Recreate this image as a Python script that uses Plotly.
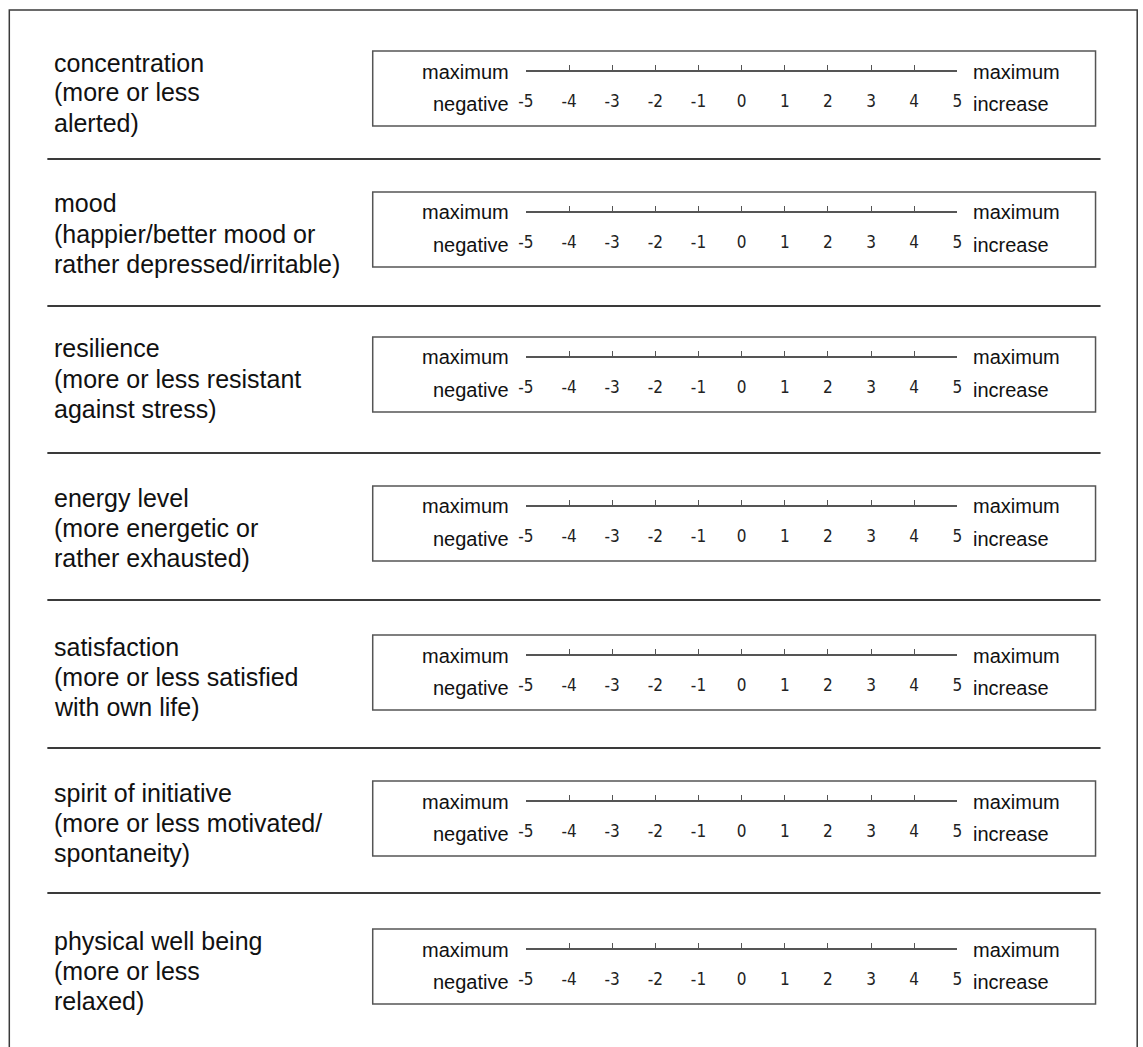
import plotly.graph_objects as go

# ---------------- data ----------------
item_names = ["concentration", "mood", "resilience", "energy level",
              "satisfaction", "spirit of initiative", "physical well being"]
item_desc_line1 = ["(more or less", "(happier/better mood or", "(more or less resistant",
                   "(more energetic or", "(more or less satisfied",
                   "(more or less motivated/", "(more or less"]
item_desc_line2 = ["alerted)", "rather depressed/irritable)", "against stress)",
                   "rather exhausted)", "with own life)", "spontaneity)", "relaxed)"]
scale_values = [-5, -4, -3, -2, -1, 0, 1, 2, 3, 4, 5]
tick_labels = ["-5", "-4", "-3", "-2", "-1", "0", "1", "2", "3", "4", "5"]
left_words = ["maximum", "negative"]
right_words = ["maximum", "increase"]

# ---------------- layout helpers (pixels -> paper) ----------------
W, H = 1143, 1047
X_OFF, X_SCALE = 8.7, 0.9875
def px(x):
    return min(max((x - X_OFF) / X_SCALE, 0.8), W - 0.8) / W
def py(y):
    return 1 - y / H

box_tops = [51, 192, 337, 486, 635, 781, 929]
separators = [159, 306, 453, 600, 748, 893]
BOX_L, BOX_R, BOX_H = 373, 1095, 75
LINE_L, LINE_R = 526, 957

INK = "#3a3a3a"
LABEL_FONT = dict(family="Liberation Sans, Arial", size=25, color="#111111")
WORD_FONT = dict(family="Liberation Sans, Arial", size=20, color="#111111")
fig = go.Figure()
shapes = []
annotations = []
layout_axes = {}

# outer frame (open at bottom)
shapes.append(dict(type="path", xref="paper", yref="paper",
                   path=f"M {px(10)} {py(1047)} L {px(10)} {py(10)} L {px(1138)} {py(10)} L {px(1138)} {py(1047)}",
                   line=dict(color=INK, width=1.5)))

for s in separators:
    shapes.append(dict(type="line", xref="paper", yref="paper", x0=px(48), x1=px(1100),
                       y0=py(s), y1=py(s), line=dict(color=INK, width=2)))

for i, top in enumerate(box_tops):
    n = i + 1
    xa = "xaxis" if n == 1 else f"xaxis{n}"
    ya = "yaxis" if n == 1 else f"yaxis{n}"
    xr = "x" if n == 1 else f"x{n}"
    yr = "y" if n == 1 else f"y{n}"
    line_y = top + 19
    # box
    shapes.append(dict(type="rect", xref="paper", yref="paper",
                       x0=px(BOX_L), x1=px(BOX_R), y0=py(top), y1=py(top + BOX_H),
                       line=dict(color="#555555", width=1.5), fillcolor="rgba(0,0,0,0)"))
    # scale axis
    layout_axes[xa] = dict(domain=[px(LINE_L), px(LINE_R)], anchor=yr, range=[-5, 5],
                           tickmode="array", tickvals=scale_values, ticktext=tick_labels,
                           ticks="inside", ticklen=5, tickwidth=1, tickcolor="#555555",
                           showline=True, linecolor="#555555", linewidth=1.5,
                           showgrid=False, zeroline=False, fixedrange=True,
                           ticklabelstandoff=15,
                           tickfont=dict(family="Liberation Sans Narrow, DejaVu Sans Condensed, DejaVu Sans",
                                         size=17, color="#222222"))
    layout_axes[ya] = dict(domain=[py(line_y), py(line_y - 6)], anchor=xr, range=[0, 1],
                           visible=False, fixedrange=True)
    fig.add_trace(go.Scatter(x=scale_values, y=[0] * len(scale_values), xaxis=xr, yaxis=yr,
                             mode="markers", marker=dict(opacity=0), hoverinfo="skip",
                             showlegend=False))
    # item label, one annotation per line
    lines = [item_names[i], item_desc_line1[i], item_desc_line2[i]]
    for k, t in enumerate(lines):
        annotations.append(dict(xref="paper", yref="paper", x=px(53), y=py(top + 11.5 + 30 * k),
                                xanchor="left", yanchor="middle", align="left", showarrow=False,
                                text=t, font=LABEL_FONT))
    # scale words
    for j, w in enumerate(left_words):
        annotations.append(dict(xref="paper", yref="paper", x=px(511), y=py(top + 20.5 + 32.5 * j),
                                xanchor="right", yanchor="middle", showarrow=False, text=w,
                                font=WORD_FONT))
    for j, w in enumerate(right_words):
        annotations.append(dict(xref="paper", yref="paper", x=px(971), y=py(top + 20.5 + 32.5 * j),
                                xanchor="left", yanchor="middle", showarrow=False, text=w,
                                font=WORD_FONT))

fig.update_layout(width=W, height=H, autosize=False, margin=dict(l=0, r=0, t=0, b=0),
                  paper_bgcolor="white", plot_bgcolor="rgba(0,0,0,0)",
                  shapes=shapes, annotations=annotations, showlegend=False,
                  **layout_axes)

fig.write_html("out.html", config={"displayModeBar": False, "responsive": False},
               post_script="document.documentElement.style.margin='0px';"
                           "document.body.style.margin='0px';"
                           "document.body.style.padding='0px';"
                           "document.body.style.overflow='hidden';"
                           "document.documentElement.style.overflow='hidden';")
